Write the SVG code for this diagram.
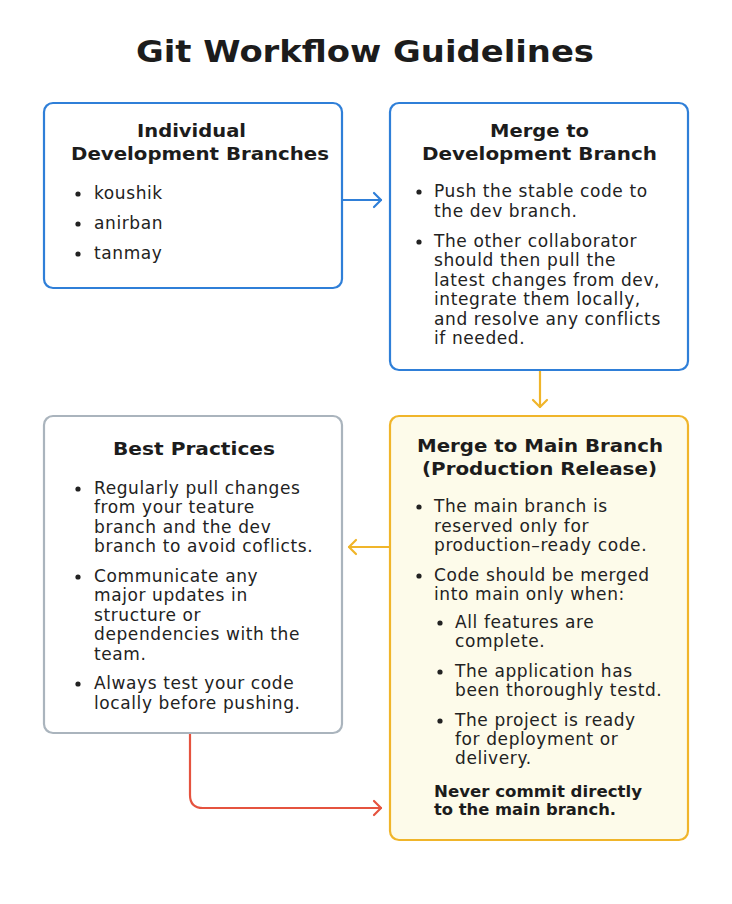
<svg xmlns="http://www.w3.org/2000/svg" width="732" height="904" viewBox="0 0 732 904">
<defs>
<style>
.title{font-family:"DejaVu Sans","Liberation Sans",sans-serif;font-weight:bold;font-size:31px;fill:#1c1c1c;text-anchor:middle}
.h{font-family:"DejaVu Sans","Liberation Sans",sans-serif;font-weight:bold;font-size:18.5px;fill:#1c1c1c;text-anchor:middle}
.t{font-family:"DejaVu Sans","Liberation Sans",sans-serif;font-size:17px;fill:#222;letter-spacing:0.6px}
.b{font-family:"DejaVu Sans","Liberation Sans",sans-serif;font-weight:bold;font-size:16px;fill:#1c1c1c}
.dot{fill:#222}
.blue{fill:#fff;stroke:#2f7fd8;stroke-width:2.2}
.gray{fill:#fff;stroke:#aab4bd;stroke-width:2.2}
.yellow{fill:#fdfbea;stroke:#f0b52a;stroke-width:2.2}
.c{fill:none;stroke-width:2.2;stroke-linecap:round;stroke-linejoin:round}
</style>
</defs>
<rect width="732" height="904" fill="#fff"/>
<text class="title" x="365" y="62" textLength="458" lengthAdjust="spacingAndGlyphs">Git Workflow Guidelines</text>

<g id="connectors">
<g class="c" stroke="#2f7fd8"><path d="M343 200H381"/><path d="M374 193L381 200L374 207"/></g>
<g class="c" stroke="#f0b52a"><path d="M540 371V407"/><path d="M533 400L540 407L547 400"/></g>
<g class="c" stroke="#f0b52a"><path d="M389 547H349"/><path d="M356 540L349 547L356 554"/></g>
<g class="c" stroke="#e5533f"><path d="M190 734V795Q190 808 203 808H381"/><path d="M374 801L381 808L374 815"/></g>
</g>

<g id="individual">
<rect class="blue" x="44" y="103" width="298" height="185" rx="9"/>
<text class="h" x="191.5" y="137" textLength="109" lengthAdjust="spacingAndGlyphs">Individual</text>
<text class="h" x="200" y="160" textLength="258" lengthAdjust="spacingAndGlyphs">Development Branches</text>
<circle class="dot" cx="78" cy="194" r="2.6"/><text class="t" x="94" y="199">koushik</text>
<circle class="dot" cx="78" cy="224" r="2.6"/><text class="t" x="94" y="229">anirban</text>
<circle class="dot" cx="78" cy="254" r="2.6"/><text class="t" x="94" y="259">tanmay</text>
</g>

<g id="merge-dev">
<rect class="blue" x="390" y="103" width="298" height="267" rx="9"/>
<text class="h" x="539.5" y="137" textLength="99" lengthAdjust="spacingAndGlyphs">Merge to</text>
<text class="h" x="539.5" y="160" textLength="235" lengthAdjust="spacingAndGlyphs">Development Branch</text>
<circle class="dot" cx="419" cy="192" r="2.6"/>
<text class="t" x="434" y="197">Push the stable code to</text>
<text class="t" x="434" y="217">the dev branch.</text>
<circle class="dot" cx="419" cy="242" r="2.6"/>
<text class="t" x="434" y="247">The other collaborator</text>
<text class="t" x="434" y="266">should then pull the</text>
<text class="t" x="434" y="286">latest changes from dev,</text>
<text class="t" x="434" y="305">integrate them locally,</text>
<text class="t" x="434" y="325">and resolve any conflicts</text>
<text class="t" x="434" y="344">if needed.</text>
</g>

<g id="best-practices">
<rect class="gray" x="44" y="416" width="298" height="317" rx="9"/>
<text class="h" x="194" y="455" textLength="162" lengthAdjust="spacingAndGlyphs">Best Practices</text>
<circle class="dot" cx="78" cy="489" r="2.6"/>
<text class="t" x="94" y="494">Regularly pull changes</text>
<text class="t" x="94" y="513">from your teature</text>
<text class="t" x="94" y="533">branch and the dev</text>
<text class="t" x="94" y="552">branch to avoid coflicts.</text>
<circle class="dot" cx="78" cy="577" r="2.6"/>
<text class="t" x="94" y="582">Communicate any</text>
<text class="t" x="94" y="601">major updates in</text>
<text class="t" x="94" y="621">structure or</text>
<text class="t" x="94" y="640">dependencies with the</text>
<text class="t" x="94" y="660">team.</text>
<circle class="dot" cx="78" cy="684" r="2.6"/>
<text class="t" x="94" y="689">Always test your code</text>
<text class="t" x="94" y="709">locally before pushing.</text>
</g>

<g id="merge-main">
<rect class="yellow" x="390" y="416" width="298" height="424" rx="9"/>
<text class="h" x="540" y="452" textLength="246" lengthAdjust="spacingAndGlyphs">Merge to Main Branch</text>
<text class="h" x="539.5" y="475" textLength="235" lengthAdjust="spacingAndGlyphs">(Production Release)</text>
<circle class="dot" cx="419" cy="507" r="2.6"/>
<text class="t" x="434" y="512">The main branch is</text>
<text class="t" x="434" y="532">reserved only for</text>
<text class="t" x="434" y="551">production–ready code.</text>
<circle class="dot" cx="419" cy="576" r="2.6"/>
<text class="t" x="434" y="581">Code should be merged</text>
<text class="t" x="434" y="600">into main only when:</text>
<circle class="dot" cx="440" cy="623" r="2.6"/>
<text class="t" x="455" y="628">All features are</text>
<text class="t" x="455" y="647">complete.</text>
<circle class="dot" cx="440" cy="672" r="2.6"/>
<text class="t" x="455" y="677">The application has</text>
<text class="t" x="455" y="696">been thoroughly testd.</text>
<circle class="dot" cx="440" cy="721" r="2.6"/>
<text class="t" x="455" y="726">The project is ready</text>
<text class="t" x="455" y="745">for deployment or</text>
<text class="t" x="455" y="764">delivery.</text>
<text class="b" x="434" y="797" textLength="208" lengthAdjust="spacingAndGlyphs">Never commit directly</text>
<text class="b" x="434" y="815" textLength="182" lengthAdjust="spacingAndGlyphs">to the main branch.</text>
</g>
</svg>
